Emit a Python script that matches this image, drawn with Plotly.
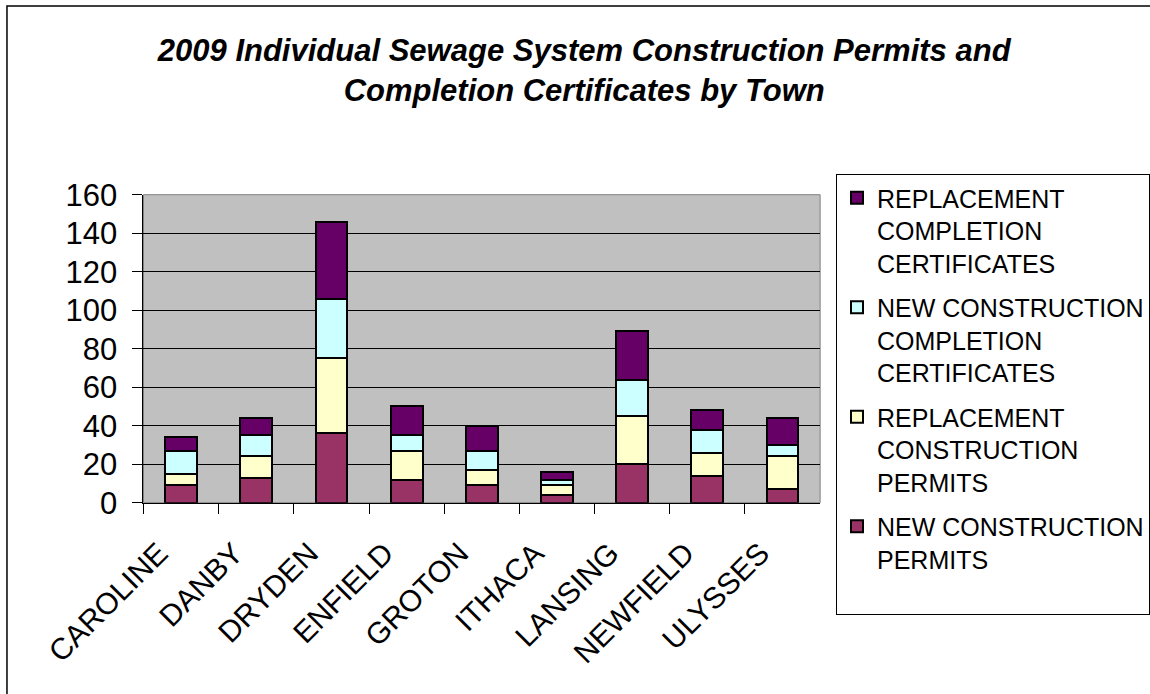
import plotly.graph_objects as go

towns = ["CAROLINE", "DANBY", "DRYDEN", "ENFIELD", "GROTON", "ITHACA", "LANSING", "NEWFIELD", "ULYSSES"]
new_construction_permits = [9, 13, 36, 12, 9, 4, 20, 14, 7]
replacement_construction_permits = [6, 11, 39, 15, 8, 5, 25, 12, 17]
new_construction_certificates = [12, 11, 31, 8, 10, 3, 19, 12, 6]
replacement_completion_certificates = [7, 9, 40, 15, 13, 4, 25, 10, 14]

series = [
    ("NEW CONSTRUCTION<br>PERMITS<br>&nbsp;", new_construction_permits, "#993366"),
    ("REPLACEMENT<br>CONSTRUCTION<br>PERMITS", replacement_construction_permits, "#FFFFCC"),
    ("NEW CONSTRUCTION<br>COMPLETION<br>CERTIFICATES", new_construction_certificates, "#CCFFFF"),
    ("REPLACEMENT<br>COMPLETION<br>CERTIFICATES", replacement_completion_certificates, "#660066"),
]

FONT = "Liberation Sans, Arial, sans-serif"
W, H = 1150, 694

fig = go.Figure()
for i, (name, vals, col) in enumerate(series):
    fig.add_trace(go.Bar(
        x=towns, y=vals, name=name, legendgroup=f"g{i}", legendrank=100 - i,
        marker=dict(color=col, line=dict(color="black", width=2)),
    ))

px0, px1 = 144, 823
py0, py1 = 194.7, 502.7

fig.update_layout(
    width=W, height=H,
    barmode="stack", bargap=0.576,
    margin=dict(l=0, r=0, t=0, b=0),
    paper_bgcolor="white", plot_bgcolor="#C0C0C0",
    font=dict(family=FONT, color="black"),
    title=dict(
        text="<b><i>2009 Individual Sewage System Construction Permits and<br>Completion Certificates by Town</i></b>",
        x=0.508, xanchor="center", y=1 - 61 / H, yanchor="top",
        font=dict(size=31, family=FONT, color="black"),
    ),
    xaxis=dict(
        domain=[px0 / W, px1 / W], type="category", tickson="boundaries",
        ticks="outside", ticklen=10, tickcolor="black", tickwidth=1,
        showline=True, linecolor="black", linewidth=1,
        tickangle=-45, tickfont=dict(size=30, family=FONT),
        ticklabelshift=-22, ticklabelstandoff=20,
        showgrid=False, automargin=False,
    ),
    yaxis=dict(
        domain=[1 - py1 / H, 1 - py0 / H], range=[0, 160], dtick=20,
        ticks="outside", ticklen=10, tickcolor="black", tickwidth=1,
        showline=True, linecolor="black", linewidth=1,
        showgrid=True, gridcolor="black", gridwidth=1,
        tickfont=dict(size=31, family=FONT), ticklabelstandoff=9,
        zeroline=False, automargin=False,
    ),
    legend=dict(
        x=839 / W, xanchor="left", y=1 - 174 / H, yanchor="top",
        bordercolor="black", borderwidth=1, bgcolor="white",
        font=dict(size=25, family=FONT), traceorder="grouped",
        tracegroupgap=9, valign="top",
    ),
    shapes=[
        dict(type="rect", xref="paper", yref="paper",
             x0=px0 / W, x1=px1 / W, y0=1 - py1 / H, y1=1 - py0 / H,
             line=dict(color="#808080", width=1), layer="below"),
        dict(type="rect", xref="paper", yref="paper",
             x0=7 / W, x1=1.02, y0=-0.02, y1=1 - 6 / H,
             line=dict(color="black", width=1.5)),
    ],
)

fig.write_html("out.html", config={"displayModeBar": False},
               post_script="document.body.style.margin='0';")
